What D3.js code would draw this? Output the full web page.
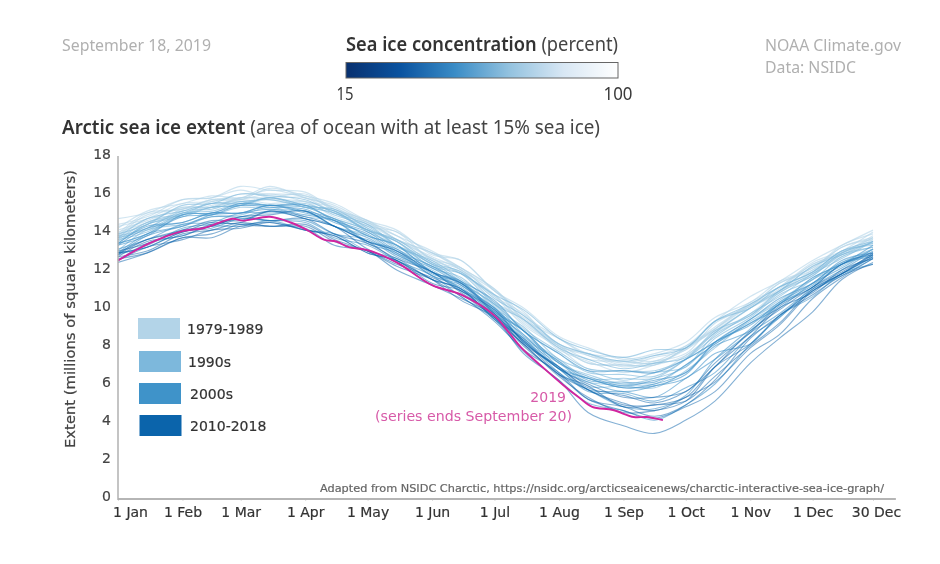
<!DOCTYPE html>
<html><head><meta charset="utf-8">
<script src="https://d3js.org/d3.v7.min.js"></script>
<style>
html,body{margin:0;padding:0;background:#fff}
svg{display:block;filter:blur(0.35px)}
text{font-family:"Noto Sans",sans-serif}
.tk{font-family:"DejaVu Sans",sans-serif;stroke:currentColor;stroke-width:0.2px}
</style></head><body>
<svg id="c" width="940" height="564"></svg>
<script>
// day of year of each reading
const knotDays=[0,14,31,45,59,73,90,104,120,134,151,165,181,195,212,226,243,258,273,287,304,318,334,348,363];
const years=[1979,1980,1981,1982,1983,1984,1985,1986,1987,1988,1989,1990,1991,1992,1993,1994,1995,1996,1997,1998,1999,2000,2001,2002,2003,2004,2005,2006,2007,2008,2009,2010,2011,2012,2013,2014,2015,2016,2017,2018];
const extents=[
[14.7,15.0,15.7,15.8,16.4,16.2,16.1,15.2,14.6,13.8,13.0,12.1,11.0,9.6,8.4,7.5,7.2,7.1,7.8,8.9,10.3,11.1,12.3,12.9,13.8],
[14.2,15.1,15.5,15.9,15.8,16.4,15.8,15.4,14.5,14.0,12.9,12.5,10.9,10.0,8.5,7.9,7.3,7.6,8.2,9.5,10.3,11.4,12.1,13.3,13.9],
[14.1,14.6,15.3,15.3,15.7,15.5,15.6,15.1,14.5,13.6,12.7,12.0,10.7,9.3,8.0,7.1,7.0,7.0,7.9,9.0,10.2,10.9,12.0,12.8,13.6],
[13.8,14.9,15.2,15.7,15.7,16.3,15.9,15.5,14.6,14.1,12.8,12.5,10.9,9.8,8.0,7.6,7.1,7.5,8.0,9.3,10.6,11.4,12.5,13.3,14.1],
[14.4,14.8,15.7,15.8,16.2,15.8,15.8,15.0,14.4,13.6,12.9,12.0,10.9,9.4,8.4,7.6,7.4,7.2,8.0,8.9,10.1,10.9,12.2,12.9,13.7],
[13.7,14.5,14.9,15.4,15.5,15.7,15.3,15.0,14.1,13.5,12.3,11.9,10.3,9.4,7.8,7.2,6.6,7.0,7.5,8.7,9.7,10.9,11.7,12.9,13.4],
[13.7,14.2,15.2,15.3,15.8,15.8,16.0,15.1,14.5,13.6,12.6,11.8,10.6,9.1,7.9,6.8,6.7,6.6,7.5,8.7,10.0,11.0,12.3,12.9,13.7],
[13.8,14.7,14.9,15.6,15.7,16.0,15.6,15.3,14.4,13.8,12.6,12.1,10.6,9.7,8.1,7.6,7.0,7.4,7.8,9.3,10.1,11.3,12.0,13.2,13.6],
[14.3,14.7,15.5,15.6,16.0,16.0,15.9,15.2,14.6,13.6,12.9,12.1,11.0,9.4,8.1,7.3,7.2,7.1,7.9,8.9,10.2,11.1,12.4,13.0,14.0],
[13.9,15.0,15.2,15.7,15.8,16.2,15.8,15.3,14.3,14.0,12.5,12.0,10.3,9.5,8.0,7.5,6.9,7.2,7.6,9.2,10.1,11.3,12.1,13.2,13.7],
[14.0,14.5,15.3,15.3,15.8,15.7,15.6,14.8,14.2,13.3,12.6,11.8,10.7,9.2,8.0,7.1,7.0,7.0,7.9,8.8,10.0,10.8,11.9,12.7,13.5],
[13.7,14.7,15.1,15.5,15.5,15.8,15.4,15.1,14.0,13.3,11.9,11.3,9.8,8.8,7.1,6.5,6.0,6.3,6.9,8.6,9.6,10.9,11.8,12.9,13.4],
[13.8,14.2,15.1,15.2,15.6,15.4,15.3,14.7,14.1,13.2,12.5,11.5,10.3,8.8,7.6,6.6,6.5,6.4,7.3,8.5,9.7,10.6,11.8,12.6,13.5],
[13.6,14.5,15.0,15.5,15.6,15.7,15.3,15.0,14.1,13.6,12.4,11.9,10.5,9.6,8.1,7.6,7.2,7.5,7.9,9.3,10.2,11.1,11.9,13.0,13.5],
[13.9,14.4,15.4,15.5,16.0,15.9,15.7,15.0,14.4,13.3,12.3,11.3,10.2,8.6,7.3,6.3,6.3,6.3,7.3,8.7,10.0,10.9,12.2,12.8,13.5],
[13.5,14.4,14.9,15.3,15.4,15.8,15.4,15.1,14.1,13.5,12.3,11.8,10.2,9.4,7.9,7.3,6.8,7.1,7.4,8.8,9.6,10.8,11.7,12.8,13.2],
[13.4,13.9,15.0,14.9,15.3,15.2,15.1,14.3,13.8,12.8,12.0,11.0,9.9,8.3,7.1,6.1,6.0,6.0,7.0,8.1,9.3,10.2,11.5,12.4,13.1],
[13.0,14.1,14.4,14.8,14.9,15.3,14.8,14.6,13.8,13.3,12.2,11.8,10.7,9.9,8.4,7.8,7.4,7.8,7.9,9.3,10.0,11.1,11.9,13.0,13.3],
[13.6,14.0,14.9,15.0,15.4,15.4,15.3,14.7,14.1,13.1,12.2,11.3,10.2,8.9,7.7,6.8,6.7,6.7,7.3,8.2,9.4,10.3,11.6,12.3,13.1],
[13.4,14.4,14.8,15.3,15.4,15.8,15.3,15.2,14.2,13.5,12.1,11.6,10.0,9.0,7.3,6.7,6.2,6.6,6.9,8.4,9.5,10.7,11.5,12.7,13.2],
[13.7,14.1,15.0,15.1,15.5,15.4,15.5,14.9,14.3,13.3,12.4,11.4,10.1,8.4,7.2,5.9,5.9,5.8,6.7,7.9,9.4,10.4,11.5,12.2,13.1],
[13.3,14.2,14.5,15.0,15.0,15.4,15.1,14.7,13.8,13.3,11.9,11.4,9.8,8.8,7.1,6.4,5.9,6.2,6.6,8.2,9.1,10.3,11.3,12.4,12.8],
[13.3,13.8,14.9,15.0,15.5,15.4,15.4,14.6,14.0,13.0,12.2,11.4,10.4,8.8,7.6,6.7,6.7,6.6,7.3,8.2,9.2,10.2,11.6,12.3,13.3],
[13.4,14.3,14.5,15.0,15.0,15.4,15.0,14.6,13.4,12.9,11.7,11.2,9.7,8.6,6.8,6.1,5.6,5.9,6.5,8.2,9.4,10.5,11.3,12.5,12.9],
[13.4,13.9,14.8,14.9,15.4,15.3,15.2,14.5,13.9,12.9,12.1,11.2,10.0,8.5,7.2,6.2,6.1,6.1,7.0,8.1,9.2,10.0,11.3,12.1,13.1],
[12.9,13.9,14.3,14.8,14.8,15.1,14.7,14.3,13.5,13.1,11.8,11.3,9.9,8.8,6.9,6.3,5.8,6.0,6.6,8.0,8.8,10.2,11.1,12.3,12.7],
[12.8,13.3,14.2,14.4,14.7,14.6,14.6,13.9,13.6,12.7,11.9,10.9,9.8,8.2,6.8,5.7,5.6,5.3,6.3,7.3,8.7,9.7,11.0,11.8,12.7],
[12.5,13.4,13.8,14.3,14.3,14.6,14.1,13.9,13.0,12.6,11.5,11.0,9.4,8.4,6.8,6.3,5.8,5.9,6.3,7.6,8.1,9.6,10.6,11.8,12.3],
[12.9,13.2,14.0,14.2,14.7,14.6,14.5,13.7,13.3,12.5,11.7,10.6,9.4,7.7,6.2,5.0,4.6,4.1,4.9,6.0,8.1,9.5,10.9,11.7,12.6],
[12.8,13.8,14.3,14.9,15.0,15.2,14.9,14.6,13.5,13.0,11.7,11.1,9.6,8.4,6.6,5.7,4.8,4.7,5.4,7.3,8.9,10.2,11.2,12.3,12.8],
[13.1,13.6,14.4,14.5,15.0,15.0,15.1,14.3,13.7,12.8,11.9,11.0,10.0,8.2,6.8,5.6,5.5,5.1,5.8,6.6,8.5,9.5,11.1,12.0,13.0],
[12.7,13.5,13.8,14.4,14.5,15.1,14.8,14.3,13.1,12.4,11.2,10.7,9.5,8.3,6.5,5.7,4.9,4.9,5.3,6.9,8.1,9.6,10.7,11.7,12.3],
[12.7,13.0,13.9,14.1,14.5,14.3,14.4,13.6,13.0,12.2,11.5,10.6,9.3,7.8,6.6,5.2,4.8,4.3,4.9,6.2,8.4,9.6,10.9,11.8,12.7],
[12.9,13.2,14.0,14.3,14.8,14.9,15.1,14.3,13.5,12.5,11.5,10.4,9.5,7.6,6.2,4.5,3.8,3.4,4.1,5.1,7.1,8.4,9.8,11.5,12.4],
[12.8,13.6,14.1,14.6,14.6,15.1,14.7,14.3,13.5,13.0,11.9,11.3,9.7,8.3,6.8,6.0,5.3,5.3,5.6,7.1,8.7,10.1,11.1,12.3,12.9],
[13.0,13.4,14.1,14.3,14.8,14.6,14.7,13.9,13.4,12.6,11.9,10.8,9.7,8.1,6.9,5.8,5.4,5.0,5.6,6.9,8.8,9.9,11.1,11.9,12.8],
[12.9,13.6,14.0,14.5,14.4,14.5,14.1,13.8,12.9,12.5,11.3,10.9,9.5,8.1,6.4,5.3,4.5,4.6,5.1,6.9,8.5,10.0,10.8,12.0,12.6],
[12.6,12.9,13.7,13.9,14.4,14.3,14.2,13.3,13.0,12.0,11.2,10.5,9.6,8.0,6.5,5.2,4.6,4.2,4.8,5.6,7.6,8.6,10.5,11.6,12.6],
[12.5,13.2,13.6,14.1,14.2,14.5,14.1,13.8,12.9,12.5,11.5,11.0,9.4,8.1,6.5,5.9,4.8,4.9,5.1,6.4,8.0,9.2,11.0,11.8,12.8],
[12.4,12.9,13.7,13.7,14.3,14.3,14.3,13.5,13.0,12.3,11.6,10.9,9.9,8.2,6.9,5.7,5.0,4.6,5.3,6.1,7.9,9.1,10.9,11.8,12.9]
];
const days2019=[0,15,31,41,55,60,73,83,91,99,105,111,120,134,151,165,181,188,194,204,214,222,228,238,248,254,262];
const extent2019=[12.5,13.4,14.05,14.2,14.7,14.6,14.8,14.5,14.1,13.6,13.5,13.2,13.05,12.4,11.2,10.7,9.6,8.7,7.9,6.9,5.95,5.26,4.8,4.63,4.26,4.26,4.1];
const yTicks=[0,2,4,6,8,10,12,14,16,18];
const monthDays=[0,31,59,90,120,151,181,212,243,273,304,334,363];
const monthLabels=["1 Jan","1 Feb","1 Mar","1 Apr","1 May","1 Jun","1 Jul","1 Aug","1 Sep","1 Oct","1 Nov","1 Dec","30 Dec"];
const legendLabels=["1979-1989","1990s","2000s","2010-2018"];
const legendColors=["#b3d4e8","#7db8dc","#3f93c9","#0b64ab"];
const rampStops=["#08306f","#0a53a0","#3a8cc6","#93c2df","#d8e7f4","#ffffff"];

const svg=d3.select("#c");
const x=d3.scaleLinear().domain([0,363]).range([118,873]);
const y=d3.scaleLinear().domain([0,18]).range([498,156]);

// colour bar
const grad=svg.append("defs").append("linearGradient").attr("id","ramp");
rampStops.forEach((c,i)=>grad.append("stop").attr("offset",i/(rampStops.length-1)).attr("stop-color",c));
svg.append("rect").attr("x",346).attr("y",62.5).attr("width",272).attr("height",15.5)
  .attr("fill","url(#ramp)").attr("stroke","#666").attr("stroke-width",1);

function t(str,px,py,size,col,len,weight,anchor){
  const e=svg.append("text").attr("x",px).attr("y",py).attr("font-size",size).attr("fill",col).text(str);
  if(len){e.attr("textLength",len).attr("lengthAdjust","spacingAndGlyphs");}
  if(weight)e.attr("font-weight",weight);
  if(anchor)e.attr("text-anchor",anchor);
  return e;
}
function twoPart(a,b,px,py,size,len){
  const e=svg.append("text").attr("x",px).attr("y",py).attr("font-size",size)
    .attr("textLength",len).attr("lengthAdjust","spacingAndGlyphs");
  e.append("tspan").attr("font-weight",600).attr("fill","#333").text(a);
  e.append("tspan").attr("fill","#444").text(" "+b);
}
t("September 18, 2019",62,51,16.5,"#b0b0b0",149);
twoPart("Sea ice concentration","(percent)",346,51,19.5,272);
t("NOAA Climate.gov",765,51,16.5,"#b0b0b0",136);
t("Data: NSIDC",765,73,16.5,"#b0b0b0",91);
t("15",336.5,100,18.5,"#3a3a3a",17);
t("100",603.5,100,18.5,"#3a3a3a",29);
twoPart("Arctic sea ice extent","(area of ocean with at least 15% sea ice)",62,134,19,538);

// lines
const line=d3.line().x(d=>x(d[0])).y(d=>y(d[1])).curve(d3.curveCatmullRom.alpha(0.5));
function groupOf(yr){return yr<1990?0:yr<2000?1:yr<2010?2:3;}
const lw=[1.2,1.1,1.1,1.1], op=[0.6,0.62,0.58,0.5];
const g=svg.append("g").attr("fill","none");
years.forEach((yr,i)=>{
  const k=groupOf(yr);
  g.append("path").attr("d",line(knotDays.map((d,j)=>[d,extents[i][j]])))
   .attr("stroke",legendColors[k]).attr("stroke-width",lw[k]).attr("stroke-opacity",op[k]);
});
g.append("path").attr("d",line(days2019.map((d,j)=>[d,extent2019[j]])))
 .attr("stroke","#d1259f").attr("stroke-width",1.9);

// axes
const yAxis=svg.append("g").attr("transform","translate(118,0)")
  .call(d3.axisLeft(y).tickValues(yTicks).tickSize(0).tickPadding(7));
yAxis.select(".domain").remove();
yAxis.selectAll("text").attr("class","tk").attr("font-size",14).attr("fill","#444").style("color","#444").attr("dy","0.2em");
const xAxis=svg.append("g").attr("transform","translate(0,499)")
  .call(d3.axisBottom(x).tickValues(monthDays).tickFormat((d,i)=>monthLabels[i]).tickSize(2).tickPadding(6));
xAxis.select(".domain").remove();
xAxis.selectAll("line").attr("stroke","#ddd");
xAxis.selectAll("text").attr("class","tk").attr("font-size",14).attr("fill","#333").style("color","#333")
  .attr("dx",(d,i)=>i===0?12:i===12?3:0);
svg.append("line").attr("x1",x(0)).attr("x2",x(374)).attr("y1",y(0)+1).attr("y2",y(0)+1).attr("stroke","#b5b5b5").attr("stroke-width",2);
svg.append("line").attr("x1",x(0)).attr("x2",x(0)).attr("y1",y(18)).attr("y2",y(0)+2).attr("stroke","#b0b0b0").attr("stroke-width",1.5);

svg.append("text").attr("class","tk").attr("transform","translate(75,309) rotate(-90)")
  .attr("text-anchor","middle").attr("font-size",14).attr("fill","#444").style("color","#444")
  .attr("textLength",278).attr("lengthAdjust","spacingAndGlyphs")
  .text("Extent (millions of square kilometers)");

// legend
const legY=[318,351,383,415], legX=[138,139,139,139.5], legTx=[187,188,190,190];
legendLabels.forEach((s,i)=>{
  svg.append("rect").attr("x",legX[i]).attr("y",legY[i]).attr("width",42).attr("height",21).attr("fill",legendColors[i]);
  t(s,legTx[i],legY[i]+16,14,"#333").attr("class","tk").style("color","#333");
});

// annotations
t("2019",566,402,14,"#d75aa8",null,null,"end").attr("class","tk").style("stroke","none");
t("(series ends September 20)",375,421,14,"#d75aa8",197).attr("class","tk").style("stroke","none");
t("Adapted from NSIDC Charctic, https://nsidc.org/arcticseaicenews/charctic-interactive-sea-ice-graph/",320,492,10.5,"#666",564).attr("class","tk").style("color","#666");
</script></body></html>
